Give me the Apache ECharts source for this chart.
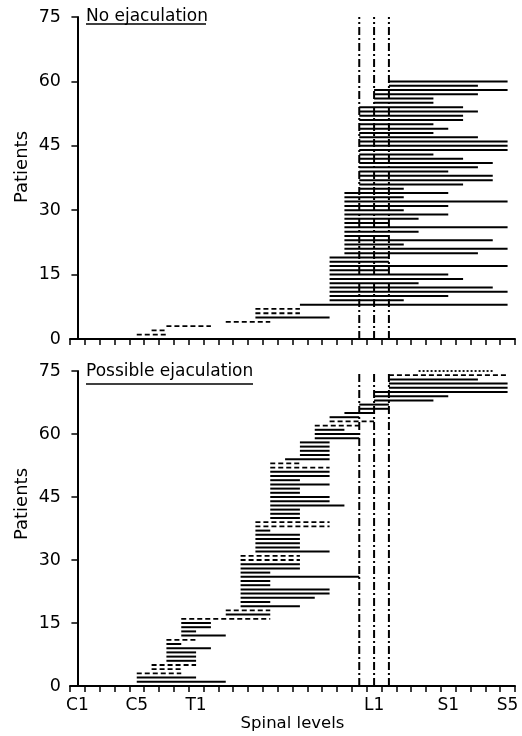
<!DOCTYPE html>
<html><head><meta charset="utf-8">
<script src="https://cdn.jsdelivr.net/npm/echarts@6/dist/echarts.min.js"></script>
<style>html,body{margin:0;padding:0;background:#fff}#c{width:522px;height:736px}</style>
</head><body><div id="c"></div>
<script>
// Spinal levels (categories)
const levels = ['C1','C2','C3','C4','C5','C6','C7','C8',
  'T1','T2','T3','T4','T5','T6','T7','T8','T9','T10','T11','T12',
  'L1','L2','L3','L4','L5','S1','S2','S3','S4','S5'];
const labeledLevels = ['C1','C5','T1','L1','S1','S5'];
const yTicks = [0, 15, 30, 45, 60, 75];
const markerLevels = [19, 20, 21]; // T12, L1, L2 reference lines

// Top panel "No ejaculation": patient 1..60, level index (C1=0 .. S5=29)
// style: 0 solid, 1 dashed, 2 dotted
const topStart = [4,5,6,10,12,12,12,15,17,17, 17,17,17,17,17,17,17,17,17,18,
                  18,18,18,18,18,18,18,18,18,18, 18,18,18,18,19,19,19,19,19,19,
                  19,19,19,19,19,19,19,19,19,19, 19,19,19,19,20,20,20,20,21,21];
const topEnd   = [6,6,9,13,17,15,15,29,22,25, 29,28,23,26,25,21,29,21,21,27,
                  29,22,28,21,23,29,21,23,25,22, 25,29,22,25,22,26,28,28,25,27,
                  28,26,24,29,29,29,27,24,25,24, 26,26,27,26,24,24,27,29,27,29];
const topStyle = [1,1,1,1,0,1,1,0,0,0, 0,0,0,0,0,0,0,0,0,0,
                  0,0,0,0,0,0,0,0,0,0, 0,0,0,0,0,0,0,0,0,0,
                  0,0,0,0,0,0,0,0,0,0, 0,0,0,0,0,0,0,0,0,0];

// Bottom panel "Possible ejaculation": patient 1..75
const botStart = [4,4,4,5,5,6,6,6,6,6, 6,7,7,7,7,7,10,10,11,11,
                  11,11,11,11,11,11,11,11,11,11, 11,12,12,12,12,12,12,12,12,13,
                  13,13,13,13,13,13,13,13,13,13, 13,13,13,14,15,15,15,15,16,16,
                  16,16,17,17,18,19,19,20,20,20, 21,21,21,21,23];
const botEnd   = [10,8,7,7,8,8,8,8,9,7, 8,10,8,9,9,13,13,13,15,13,
                  16,17,17,13,13,19,13,15,15,15, 15,17,15,15,15,15,13,17,17,15,
                  15,15,18,17,17,15,15,17,15,17, 17,17,15,17,17,17,17,17,19,19,
                  18,19,20,19,20,21,21,24,25,29, 29,29,27,29,28];
const botStyle = [0,0,1,1,1,0,0,0,0,0, 1,0,0,0,0,1,0,1,0,0,
                  0,0,0,0,0,0,0,0,0,1, 1,0,0,0,0,0,0,1,1,0,
                  0,0,0,0,0,0,0,0,0,0, 0,1,1,0,0,0,0,0,0,0,
                  0,1,1,0,0,0,0,0,0,0, 0,0,0,1,2];

function rows(s, e, st) {
  return s.map((v, i) => [v, e[i], i + 1, st[i]]);
}

const chart = echarts.init(document.getElementById('c'), null, {renderer: 'canvas'});
const FONT = 'DejaVu Sans';

function segItem(params, api) {
  const y = api.value(2);
  const a = api.coord([api.value(0), y]);
  const b = api.coord([api.value(1), y]);
  const st = api.value(3);
  return {
    type: 'line',
    shape: {x1: a[0], y1: a[1], x2: b[0], y2: b[1]},
    style: {stroke: '#000', lineWidth: st === 0 ? 2 : 1.8,
            lineDash: st === 0 ? null : (st === 1 ? [5, 3] : [2, 2])}
  };
}
function vItem(params, api) {
  const x = api.value(0);
  const a = api.coord([x, 0]);
  const b = api.coord([x, 75]);
  return {
    type: 'line',
    shape: {x1: a[0], y1: a[1], x2: b[0], y2: b[1]},
    style: {stroke: '#000', lineWidth: 2, lineDash: [8, 3, 2, 3]}
  };
}

const grids = [
  {left: 70, width: 445, top: 17, height: 322},
  {left: 70, width: 445, top: 371, height: 315}
];

const xAxes = [], yAxes = [];
[0, 1].forEach(g => {
  xAxes.push({
    gridIndex: g, type: 'category', data: levels, boundaryGap: true,
    axisLine: {lineStyle: {color: '#000', width: 2}},
    axisTick: {show: true, interval: 0, length: 6, alignWithLabel: false, lineStyle: {color: '#000', width: 1.5}},
    axisLabel: {show: g === 1, interval: (i, v) => labeledLevels.indexOf(v) >= 0,
                color: '#000', fontSize: 17, fontFamily: FONT, margin: 11},
    splitLine: {show: false},
    name: g === 1 ? 'Spinal levels' : '', nameLocation: 'middle', nameGap: 28,
    nameTextStyle: {color: '#000', fontSize: 16.5, fontFamily: FONT}
  });
  xAxes.push({gridIndex: g, type: 'value', min: -0.5, max: 29.5, show: false});
  yAxes.push({
    gridIndex: g, type: 'value', min: yTicks[0], max: yTicks[yTicks.length - 1], interval: 15,
    axisLine: {show: true, lineStyle: {color: '#000', width: 2}},
    axisTick: {show: true, length: 6, lineStyle: {color: '#000', width: 1.5}},
    axisLabel: {color: '#000', fontSize: 17.5, fontFamily: FONT, margin: 9},
    splitLine: {show: false}
  });
});

chart.setOption({
  animation: false,
  backgroundColor: '#fff',
  grid: grids,
  xAxis: xAxes,
  yAxis: yAxes,
  graphic: [
    {type: 'text', left: 86, top: 8, style: {text: 'No ejaculation', fill: '#000', font: '17px "DejaVu Sans"'}},
    {type: 'line', shape: {x1: 86, y1: 24, x2: 206, y2: 24}, style: {stroke: '#000', lineWidth: 1.5}},
    {type: 'text', left: 86, top: 363, style: {text: 'Possible ejaculation', fill: '#000', font: '17px "DejaVu Sans"'}},
    {type: 'line', shape: {x1: 86, y1: 384, x2: 253, y2: 384}, style: {stroke: '#000', lineWidth: 1.5}},
    {type: 'text', x: 22, y: 167, rotation: Math.PI / 2,
     style: {text: 'Patients', fill: '#000', font: '18px "DejaVu Sans"', align: 'center', verticalAlign: 'middle'}},
    {type: 'text', x: 22, y: 504, rotation: Math.PI / 2,
     style: {text: 'Patients', fill: '#000', font: '18px "DejaVu Sans"', align: 'center', verticalAlign: 'middle'}}
  ],
  series: [
    {type: 'custom', name: 'No ejaculation', xAxisIndex: 1, yAxisIndex: 0,
     data: rows(topStart, topEnd, topStyle), renderItem: segItem, clip: false},
    {type: 'custom', name: 'markers top', xAxisIndex: 1, yAxisIndex: 0,
     data: markerLevels.map(v => [v]), renderItem: vItem},
    {type: 'custom', name: 'Possible ejaculation', xAxisIndex: 3, yAxisIndex: 1,
     data: rows(botStart, botEnd, botStyle), renderItem: segItem, clip: false},
    {type: 'custom', name: 'markers bottom', xAxisIndex: 3, yAxisIndex: 1,
     data: markerLevels.map(v => [v]), renderItem: vItem}
  ]
});
</script>
</body></html>
